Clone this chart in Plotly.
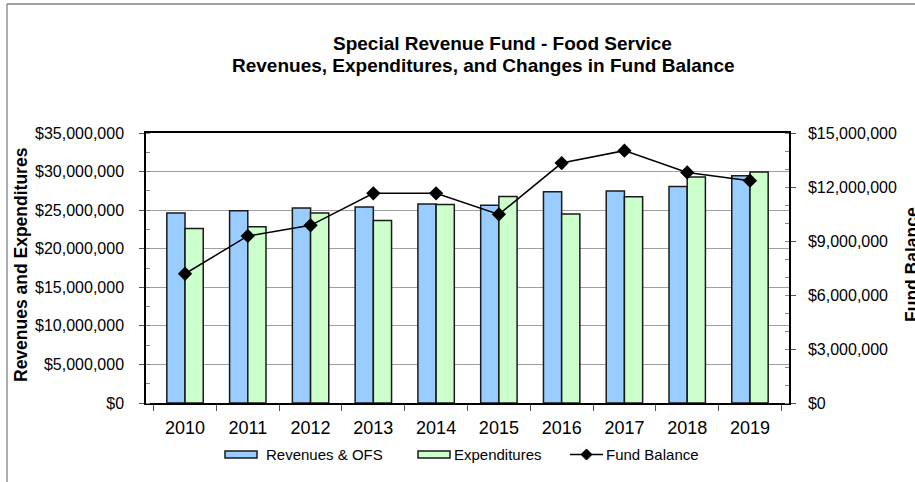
import plotly.graph_objects as go

# Fiscal years on the category axis
years = ["2010", "2011", "2012", "2013", "2014", "2015", "2016", "2017", "2018", "2019"]

# Revenues & other financing sources (left axis, dollars)
revenues = [24630000, 24930000, 25280000, 25400000, 25800000,
            25620000, 27390000, 27480000, 28080000, 29470000]

# Expenditures (left axis, dollars)
expenditures = [22630000, 22850000, 24630000, 23670000, 25740000,
                26780000, 24500000, 26740000, 29300000, 29940000]

# Ending fund balance (right axis, dollars)
fund_balance = [7180000, 9280000, 9870000, 11650000, 11650000,
                10480000, 13330000, 14020000, 12810000, 12350000]

FONT = "Liberation Sans, Arial, sans-serif"
W, H = 915, 482
L, R, T, B = 146, 126, 133, 79
PW, PH = W - L - R, H - T - B


def px(x):
    return (x - L) / PW


def py(y):
    return (H - B - y) / PH


fig = go.Figure()

fig.add_trace(go.Bar(
    x=years, y=revenues, name="Revenues & OFS",
    marker=dict(color="#99CCFF", line=dict(color="#1a1a1a", width=1.5)),
    yaxis="y", showlegend=False,
))
fig.add_trace(go.Bar(
    x=years, y=expenditures, name="Expenditures",
    marker=dict(color="#CCFFCC", line=dict(color="#1a1a1a", width=1.5)),
    yaxis="y", showlegend=False,
))
fig.add_trace(go.Scatter(
    x=years, y=fund_balance, name="Fund Balance", mode="lines+markers",
    line=dict(color="black", width=1.5),
    marker=dict(symbol="diamond", size=11, color="black"),
    yaxis="y2", showlegend=False,
))

shapes = [
    # outer chart frame (left and top edges)
    dict(type="line", xref="paper", yref="paper", x0=px(7), x1=px(7),
         y0=py(495), y1=py(4), line=dict(color="#808080", width=1.3)),
    dict(type="line", xref="paper", yref="paper", x0=px(7), x1=px(930),
         y0=py(4), y1=py(4), line=dict(color="#808080", width=1.3)),
    # legend keys
    dict(type="rect", xref="paper", yref="paper", x0=px(225), x1=px(257),
         y0=py(458), y1=py(451), fillcolor="#99CCFF",
         line=dict(color="#1a1a1a", width=1.5)),
    dict(type="rect", xref="paper", yref="paper", x0=px(418), x1=px(450),
         y0=py(458), y1=py(451), fillcolor="#CCFFCC",
         line=dict(color="#1a1a1a", width=1.5)),
    dict(type="line", xref="paper", yref="paper", x0=px(570), x1=px(603),
         y0=py(454.5), y1=py(454.5), line=dict(color="black", width=1.5)),
    dict(type="path", xref="paper", yref="paper",
         path="M {a},{m} L {b},{t} L {c},{m} L {b},{u} Z".format(
             a=px(581), b=px(586.5), c=px(592), m=py(454.5), t=py(449), u=py(460)),
         fillcolor="black", line=dict(color="black", width=1)),
]

annotations = [
    dict(text="<b>Special Revenue Fund - Food Service</b>", x=px(502), y=py(44),
         xref="paper", yref="paper", showarrow=False,
         font=dict(family=FONT, size=19, color="black"), xanchor="center", yanchor="middle"),
    dict(text="<b>Revenues, Expenditures, and Changes in Fund Balance</b>", x=px(483), y=py(65),
         xref="paper", yref="paper", showarrow=False,
         font=dict(family=FONT, size=19, color="black"), xanchor="center", yanchor="middle"),
    dict(text="<b>Revenues and Expenditures</b>", x=px(21), y=py(265),
         xref="paper", yref="paper", showarrow=False, textangle=-90,
         font=dict(family=FONT, size=17.5, color="black"), xanchor="center", yanchor="middle"),
    dict(text="<b>Fund Balance</b>", x=px(912), y=py(265),
         xref="paper", yref="paper", showarrow=False, textangle=-90,
         font=dict(family=FONT, size=17.5, color="black"), xanchor="center", yanchor="middle"),
    dict(text="Revenues & OFS", x=px(264), y=py(454.5), xref="paper", yref="paper",
         showarrow=False, xanchor="left", yanchor="middle",
         font=dict(family=FONT, size=15, color="black")),
    dict(text="Expenditures", x=px(452), y=py(454.5), xref="paper", yref="paper",
         showarrow=False, xanchor="left", yanchor="middle",
         font=dict(family=FONT, size=15, color="black")),
    dict(text="Fund Balance", x=px(604), y=py(454.5), xref="paper", yref="paper",
         showarrow=False, xanchor="left", yanchor="middle",
         font=dict(family=FONT, size=15, color="black")),
]

fig.update_layout(
    width=W, height=H,
    margin=dict(l=L, r=R, t=T, b=B, pad=0),
    paper_bgcolor="white", plot_bgcolor="white",
    barmode="group", bargap=0.42, bargroupgap=0,
    font=dict(family=FONT, color="black"),
    shapes=shapes, annotations=annotations,
    xaxis=dict(
        type="category", tickson="boundaries", ticks="outside", ticklen=6,
        tickcolor="#555555", tickfont=dict(size=18, family=FONT, color="black"),
        showline=True, linecolor="black", linewidth=1.5, mirror=True,
        showgrid=False, ticklabelstandoff=8,
    ),
    yaxis=dict(
        range=[0, 35000000], dtick=5000000, tickprefix="$", tickformat=",d",
        ticks="outside", ticklen=5, tickcolor="#555555",
        minor=dict(dtick=2500000, ticks="inside", ticklen=4, tickcolor="#888888", showgrid=False),
        tickfont=dict(size=16, family=FONT, color="black"),
        showline=True, linecolor="black", linewidth=1.5,
        showgrid=True, gridcolor="#a0a0a0", gridwidth=1,
        zeroline=False, ticklabelstandoff=12,
    ),
    yaxis2=dict(
        range=[0, 15000000], dtick=3000000, tickprefix="$", tickformat=",d",
        overlaying="y", side="right",
        ticks="outside", ticklen=5, tickcolor="#555555",
        minor=dict(dtick=1000000, ticks="inside", ticklen=4, tickcolor="#888888", showgrid=False),
        tickfont=dict(size=16, family=FONT, color="black"),
        showline=True, linecolor="black", linewidth=1.5,
        showgrid=False, zeroline=False, ticklabelstandoff=9,
    ),
)

fig.write_html("out.html")
